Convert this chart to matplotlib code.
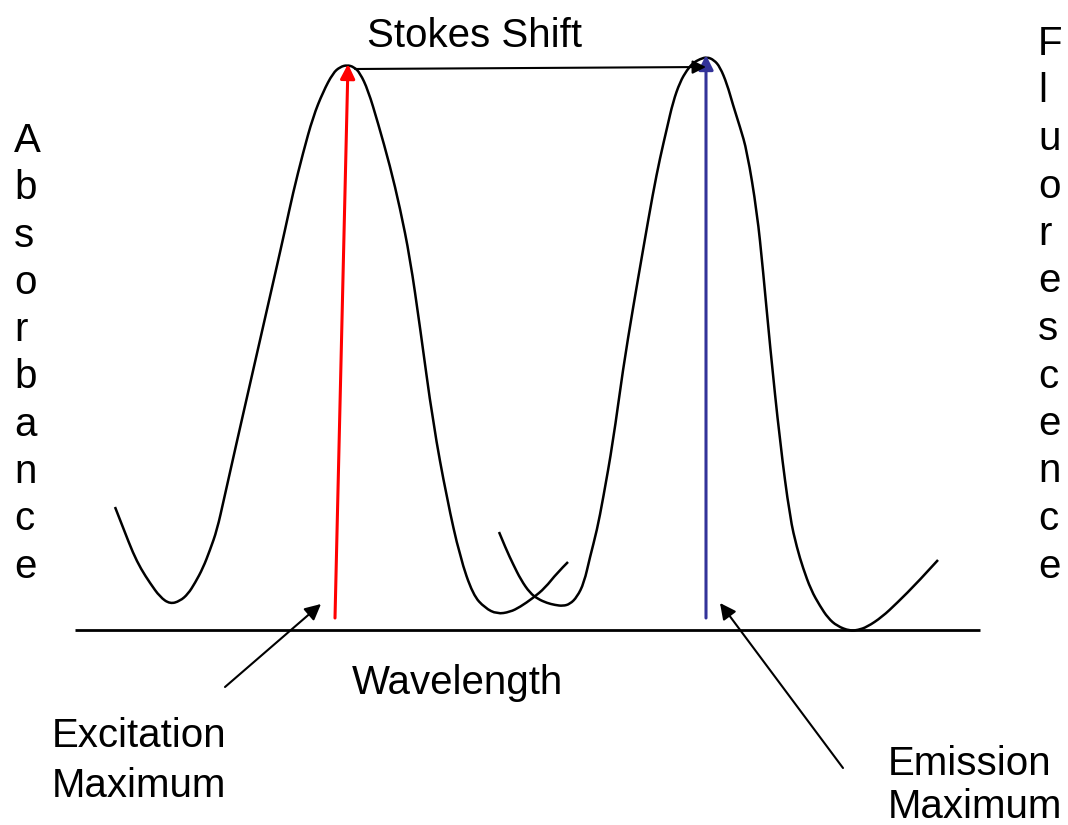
import numpy as np
import matplotlib
matplotlib.use("Agg")
import matplotlib.pyplot as plt
from matplotlib.path import Path
from matplotlib.patches import PathPatch

plt.rcParams['font.family'] = ['Liberation Sans', 'DejaVu Sans']

# curves (x = wavelength position, y = screen height, down is low)
absorb_x = [115, 124, 133, 141, 150, 160, 170, 180, 188, 195, 203, 210, 217, 224, 237, 250,
            263, 276, 285, 293, 303, 313, 323, 333, 340, 347, 354, 360, 368, 378, 390, 400,
            410, 420, 433, 447, 460, 473, 485, 497, 510, 520, 533, 545, 557, 568]
absorb_y = [507, 530, 553, 569, 583, 597, 604, 601, 594, 583, 568, 550, 530, 499, 441, 384,
            327, 270, 230, 193, 153, 117, 92, 73, 67, 65, 67, 73, 90, 123, 166, 208,
            258, 327, 423, 499, 557, 595, 608, 614, 612, 607, 598, 588, 573, 562]

fluor_x = [499, 506, 513, 521, 530, 538, 547, 555, 563, 570, 577, 584, 590, 597, 603, 613,
           623, 633, 643, 653, 660, 667, 673, 680, 687, 693, 700, 707, 714, 720, 727, 733,
           740, 747, 757, 763, 770, 780, 790, 797, 803, 811, 820, 828, 837, 850, 858, 867,
           882, 897, 918, 938]
fluor_y = [532, 549, 564, 580, 593, 599, 603, 605, 606, 604, 597, 583, 557, 530, 499, 442,
           369, 308, 250, 193, 158, 128, 102, 82, 70, 63, 59, 57, 60, 67, 84, 105,
           127, 151, 212, 270, 346, 442, 518, 548, 568, 590, 606, 618, 626, 631, 630, 627,
           617, 603, 582, 560]

excite_x = [335, 348]
excite_y = [618, 64]
emit_x = [706, 706]
emit_y = [618, 55]
stokes_x = [355, 706]
stokes_y = [69, 67]

ylabel_left = "Absorbance"
ylabel_right = "Fluorescence"

fig = plt.figure(figsize=(10.68, 8.25), dpi=100)
ax = fig.add_axes([0, 0, 1, 1])
ax.set_xlim(0, 1068)
ax.set_ylim(825, 0)
ax.axis('off')

# baseline
ax.plot([75, 980], [630, 630], color='black', lw=2, solid_capstyle='butt')


def smooth_curve(xs, ys):
    # quadratic bezier through midpoints, traced points act as control points
    pts = np.column_stack([xs, ys]).astype(float)
    verts = [pts[0]]
    codes = [Path.MOVETO]
    for i in range(1, len(pts) - 1):
        mid = (pts[i] + pts[i + 1]) / 2
        if i == len(pts) - 2:
            mid = pts[i + 1]
        verts += [pts[i], mid]
        codes += [Path.CURVE3, Path.CURVE3]
    ax.add_patch(PathPatch(Path(verts, codes), fill=False, edgecolor='black', lw=1.8))


smooth_curve(absorb_x, absorb_y)
smooth_curve(fluor_x, fluor_y)


def arrow(xs, ys, color, lw, size):
    ax.annotate('', xy=(xs[1], ys[1]), xytext=(xs[0], ys[0]),
                arrowprops=dict(arrowstyle='-|>', color=color, lw=lw,
                                mutation_scale=size, shrinkA=0, shrinkB=0))


arrow(excite_x, excite_y, 'red', 2.2, 22)
arrow(emit_x, emit_y, '#333399', 2.2, 22)
arrow(stokes_x, stokes_y, 'black', 1.5, 20)
arrow([225, 321], [687, 604], 'black', 1.5, 24)
arrow([843, 720], [768, 603], 'black', 1.5, 24)

fs = 29
ax.text(367, 47, "Stokes Shift", fontsize=fs, va='baseline', ha='left')
ax.text(352, 694, "Wavelength", fontsize=fs, va='baseline', ha='left')
ax.text(52, 747, "Excitation", fontsize=fs, va='baseline', ha='left')
ax.text(52, 797, "Maximum", fontsize=fs, va='baseline', ha='left')
ax.text(888, 775, "Emission", fontsize=fs, va='baseline', ha='left')
ax.text(888, 818, "Maximum", fontsize=fs, va='baseline', ha='left')

for i, ch in enumerate(ylabel_left):
    ax.text(14, 152 + i * 47.3, ch, fontsize=fs, va='baseline', ha='left')
for i, ch in enumerate(ylabel_right):
    ax.text(1038, 55 + i * 47.5, ch, fontsize=fs, va='baseline', ha='left')

fig.savefig("out.png", dpi=100, facecolor='white')
